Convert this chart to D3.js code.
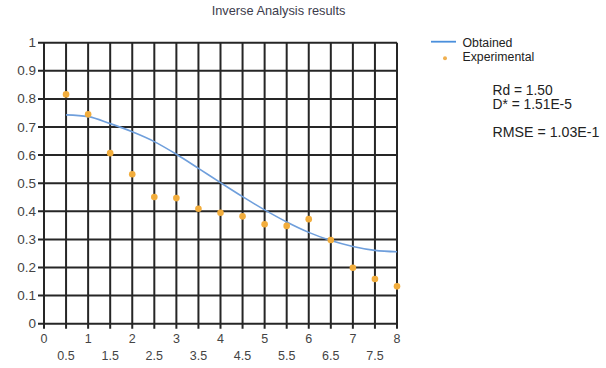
<!DOCTYPE html>
<html>
<head>
<meta charset="utf-8">
<script src="https://cdn.jsdelivr.net/npm/d3@7/dist/d3.min.js"></script>
<style>
  html, body { margin: 0; padding: 0; background: #fff; }
  svg { display: block; }
  text { font-family: "Liberation Sans", Arial, sans-serif; fill: #333; }
</style>
</head>
<body>
<svg id="chart" width="606" height="368"></svg>
<script>
// Depth positions (x) shared by both series
const xValues = [0.5, 1, 1.5, 2, 2.5, 3, 3.5, 4, 4.5, 5, 5.5, 6, 6.5, 7, 7.5, 8];
// Fitted curve
const obtained = [0.743, 0.737, 0.712, 0.683, 0.648, 0.603, 0.553, 0.502, 0.452, 0.405, 0.362, 0.325, 0.296, 0.275, 0.261, 0.256];
// Measured points
const experimental = [0.816, 0.745, 0.607, 0.532, 0.451, 0.447, 0.409, 0.395, 0.382, 0.354, 0.348, 0.372, 0.298, 0.199, 0.159, 0.133];
// Axis ticks
const xTicksMajor = [0, 1, 2, 3, 4, 5, 6, 7, 8];
const xTicksMinor = [0.5, 1.5, 2.5, 3.5, 4.5, 5.5, 6.5, 7.5];
const yTicks = [0, 0.1, 0.2, 0.3, 0.4, 0.5, 0.6, 0.7, 0.8, 0.9, 1];
const title = "Inverse Analysis results";
const legendLabels = ["Obtained", "Experimental"];
const annotations = ["Rd = 1.50", "D* = 1.51E-5", "RMSE = 1.03E-1"];

const svg = d3.select("#chart");
const plot = { left: 44, right: 397, top: 42.7, bottom: 323.7 };

const x = d3.scaleLinear().domain([0, 8]).range([plot.left, plot.right]);
const y = d3.scaleLinear().domain([0, 1]).range([plot.bottom, plot.top]);

function label(g, tx, ty, str, opts) {
  return g.append("text").text(str)
    .attr("x", tx).attr("y", ty)
    .attr("font-size", opts.size)
    .attr("text-anchor", opts.anchor || "start")
    .attr("dominant-baseline", opts.baseline || "auto")
    .style("fill", opts.fill || "#333");
}

// Title
label(svg, 278.5, 15, title, { size: 12.8, anchor: "middle", fill: "#3c3c4c" });

// Grid (every 0.5 across, every 0.1 up), with tick stubs past the axes
const gridColor = "#262626";
const allX = xTicksMajor.concat(xTicksMinor);
svg.append("g").selectAll("line").data(allX).join("line")
  .attr("x1", d => x(d)).attr("x2", d => x(d))
  .attr("y1", plot.top).attr("y2", plot.bottom + 5)
  .attr("stroke", gridColor).attr("stroke-width", 2);
svg.append("g").selectAll("line").data(yTicks).join("line")
  .attr("x1", plot.left - 6).attr("x2", plot.right)
  .attr("y1", d => y(d)).attr("y2", d => y(d))
  .attr("stroke", gridColor).attr("stroke-width", 2);

// Y labels
const yl = svg.append("g");
yTicks.forEach(d => label(yl, 36, y(d), String(d), { size: 13.5, anchor: "end", baseline: "central", fill: "#444" }));

// X labels, two rows
const xl = svg.append("g");
xTicksMajor.forEach(d => label(xl, x(d), 339, String(d), { size: 12.5, anchor: "middle", baseline: "central", fill: "#444" }));
xTicksMinor.forEach(d => label(xl, x(d), 356, String(d), { size: 12.5, anchor: "middle", baseline: "central", fill: "#444" }));

// Obtained curve
const line = d3.line().x((d, i) => x(xValues[i])).y(d => y(d)).curve(d3.curveMonotoneX);
svg.append("path").datum(obtained)
  .attr("d", line).attr("fill", "none")
  .attr("stroke", "#6f9fdc").attr("stroke-width", 1.6);

// Experimental points
svg.append("g").selectAll("circle").data(experimental).join("circle")
  .attr("cx", (d, i) => x(xValues[i])).attr("cy", d => y(d))
  .attr("r", 3.3).attr("fill", "#f2ad3c");

// Legend
const lg = svg.append("g");
lg.append("line").attr("x1", 431).attr("x2", 456).attr("y1", 41.7).attr("y2", 41.7)
  .attr("stroke", "#4a8fdc").attr("stroke-width", 1.8);
lg.append("circle").attr("cx", 445).attr("cy", 58.3).attr("r", 2).attr("fill", "#f0b050");
label(lg, 462.5, 42.5, legendLabels[0], { size: 12.3, baseline: "central", fill: "#222" });
label(lg, 462.5, 57, legendLabels[1], { size: 12.3, baseline: "central", fill: "#222" });

// Fit parameters
label(svg, 492.5, 94.5, annotations[0], { size: 13.8, fill: "#222" });
label(svg, 492.5, 108.5, annotations[1], { size: 13.8, fill: "#222" });
label(svg, 492.5, 137, annotations[2], { size: 14.2, fill: "#222" });
</script>
</body>
</html>
